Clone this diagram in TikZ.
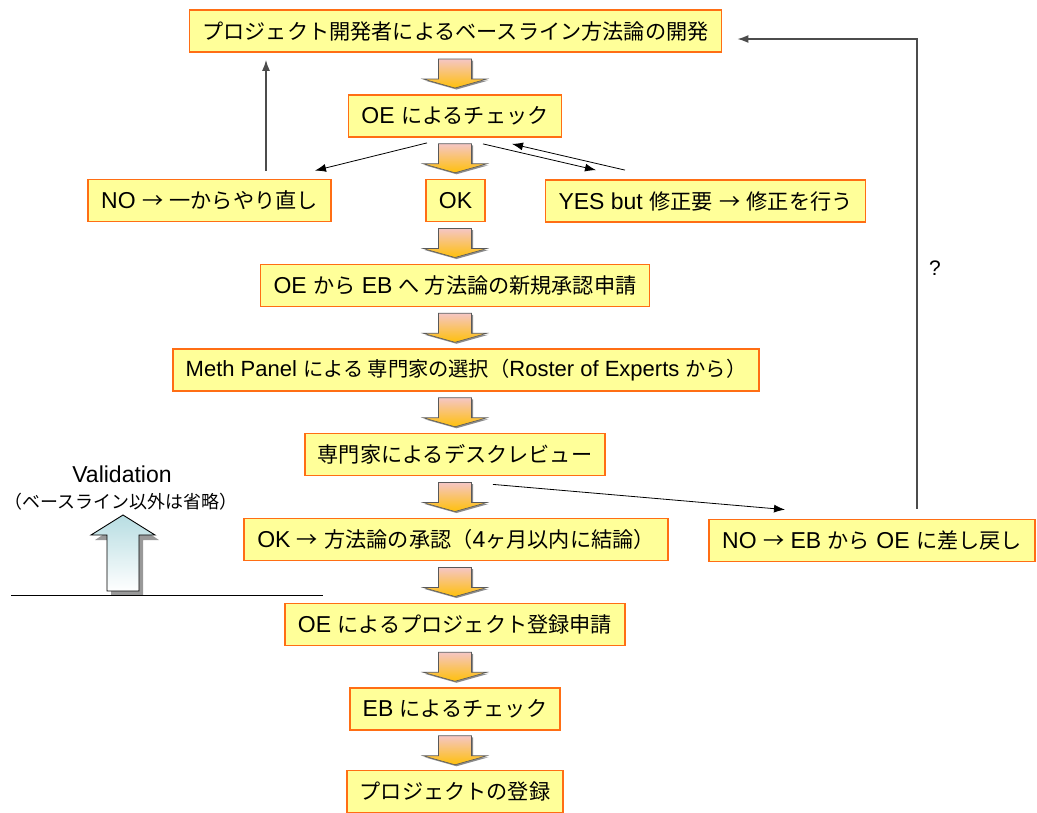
\documentclass[tikz,border=0pt]{standalone}
\usepackage{fontspec}
\setmainfont{Liberation Sans}
\newfontfamily\jpfont{Noto Sans CJK JP}[Scale=0.92]
\newcommand\J[1]{{\jpfont #1}}
\usetikzlibrary{arrows.meta,calc}
\definecolor{boxfill}{RGB}{255,255,153}
\definecolor{boxline}{RGB}{255,110,20}
\definecolor{arrtop}{RGB}{245,198,196}
\definecolor{arrbot}{RGB}{255,192,10}
\definecolor{valtop}{RGB}{183,221,226}
\begin{document}
\begin{tikzpicture}[x=1pt,y=-1pt,
  stepbox/.style={draw=boxline,fill=boxfill,line width=1.8,minimum height=42,inner xsep=13,inner ysep=0,
    font=\fontsize{23}{26}\selectfont,anchor=center},
  conn/.style={-{Latex[length=11,width=8]},line width=0.8},
  backline/.style={-{Latex[length=11,width=8]},line width=1.3,draw=black!70},
  darrow/.pic={
    \fill[black!45] (-15,-13) -- (18,-13) -- (18,7) -- (33.5,7) -- (1.5,16) -- (-30.5,7) -- (-15,7) -- cycle;
    \path[top color=arrtop,bottom color=arrbot,draw=black!65,line width=0.6]
      (-16.5,-14.5) -- (16.5,-14.5) -- (16.5,5.5) -- (32,5.5) -- (0,14.5) -- (-32,5.5) -- (-16.5,5.5) -- cycle;
  }]
\useasboundingbox (0,0) rectangle (1037,812);

\node[stepbox] (top) at (455.5,31) {\J{プロジェクト開発者によるベースライン方法論の開発}};
\node[stepbox] (oe) at (455,116) {OE \J{によるチェック}};
\node[stepbox] (no) at (209.5,200.5) {NO \J{→} \J{一からやり直し}};
\node[stepbox] (ok) at (455.5,200.5) {OK};
\node[stepbox] (yes) at (705.5,201) {YES but \J{修正要} \J{→} \J{修正を行う}};
\node[stepbox] (b4) at (455,285.5) {OE \J{から} EB \J{へ 方法論の新規承認申請}};
\node[stepbox,font=\fontsize{22}{25}\selectfont] (b5) at (466,370) {Meth Panel \J{による 専門家の選択（}Roster of Experts \J{から）}};
\node[stepbox] (b6) at (455,454.5) {\J{専門家によるデスクレビュー}};
\node[stepbox] (b7) at (456,539.5) {OK \J{→} \J{方法論の承認（}4\J{ヶ月以内に結論）}};
\node[stepbox] (noeb) at (872,540.5) {NO \J{→} EB \J{から} OE \J{に差し戻し}};
\node[stepbox] (b8) at (455,624.5) {OE \J{によるプロジェクト登録申請}};
\node[stepbox] (b9) at (455,709) {EB \J{によるチェック}};
\node[stepbox] (b10) at (455,791.5) {\J{プロジェクトの登録}};

% block arrows between steps
\foreach \a/\b in {top/oe,oe/ok,ok/b4,b4/b5,b5/b6,b6/b7,b7/b8,b8/b9,b9/b10}{
  \pic at ($(\a.south -| oe.south)!0.5!(\b.north -| oe.south)$) {darrow};
}

% connectors
\draw[backline] ($(no.north)+(56.5,-8)$) -- ($(no.north |- top.south)+(56.5,7)$);
\draw[conn] ($(oe.south)+(-28,5)$) -- ($(no.north)+(105.5,-8)$);
\draw[conn] ($(oe.south)+(28,6)$) -- ($(yes.north)+(-109.5,-9)$);
\draw[conn] ($(yes.north)+(-80.5,-9)$) -- ($(oe.south)+(57,6)$);
\draw[conn] ($(b6.south)+(38,8)$) -- ($(noeb.north)+(-87,-9)$);
\coordinate (corner) at ($(noeb.north |- top.east)+(45,8)$);
\draw[backline] ($(noeb.north)+(45,-10)$) -- (corner) -- ($(top.east)+(15,8)$);
\node[font=\fontsize{21}{24}\selectfont] (q) at (935,268) {?};

% validation
\node[font=\fontsize{23}{26}\selectfont] (val) at (122,474) {Validation};
\node[font=\fontsize{19.5}{22}\selectfont] (valnote) at (121,502) {\J{（ベースライン以外は省略）}};
\fill[black!40] (111,540) -- (95,540) -- (127,519) -- (159,540) -- (143,540) -- (143,595) -- (111,595) -- cycle;
\path[top color=valtop,bottom color=white,draw=black,line width=0.9]
  (107,535) -- (91,535) -- (123,515) -- (155,535) -- (139,535) -- (139,591) -- (107,591) -- cycle;
\draw[line width=0.9] (11,595) -- (323,595);
\end{tikzpicture}
\end{document}
